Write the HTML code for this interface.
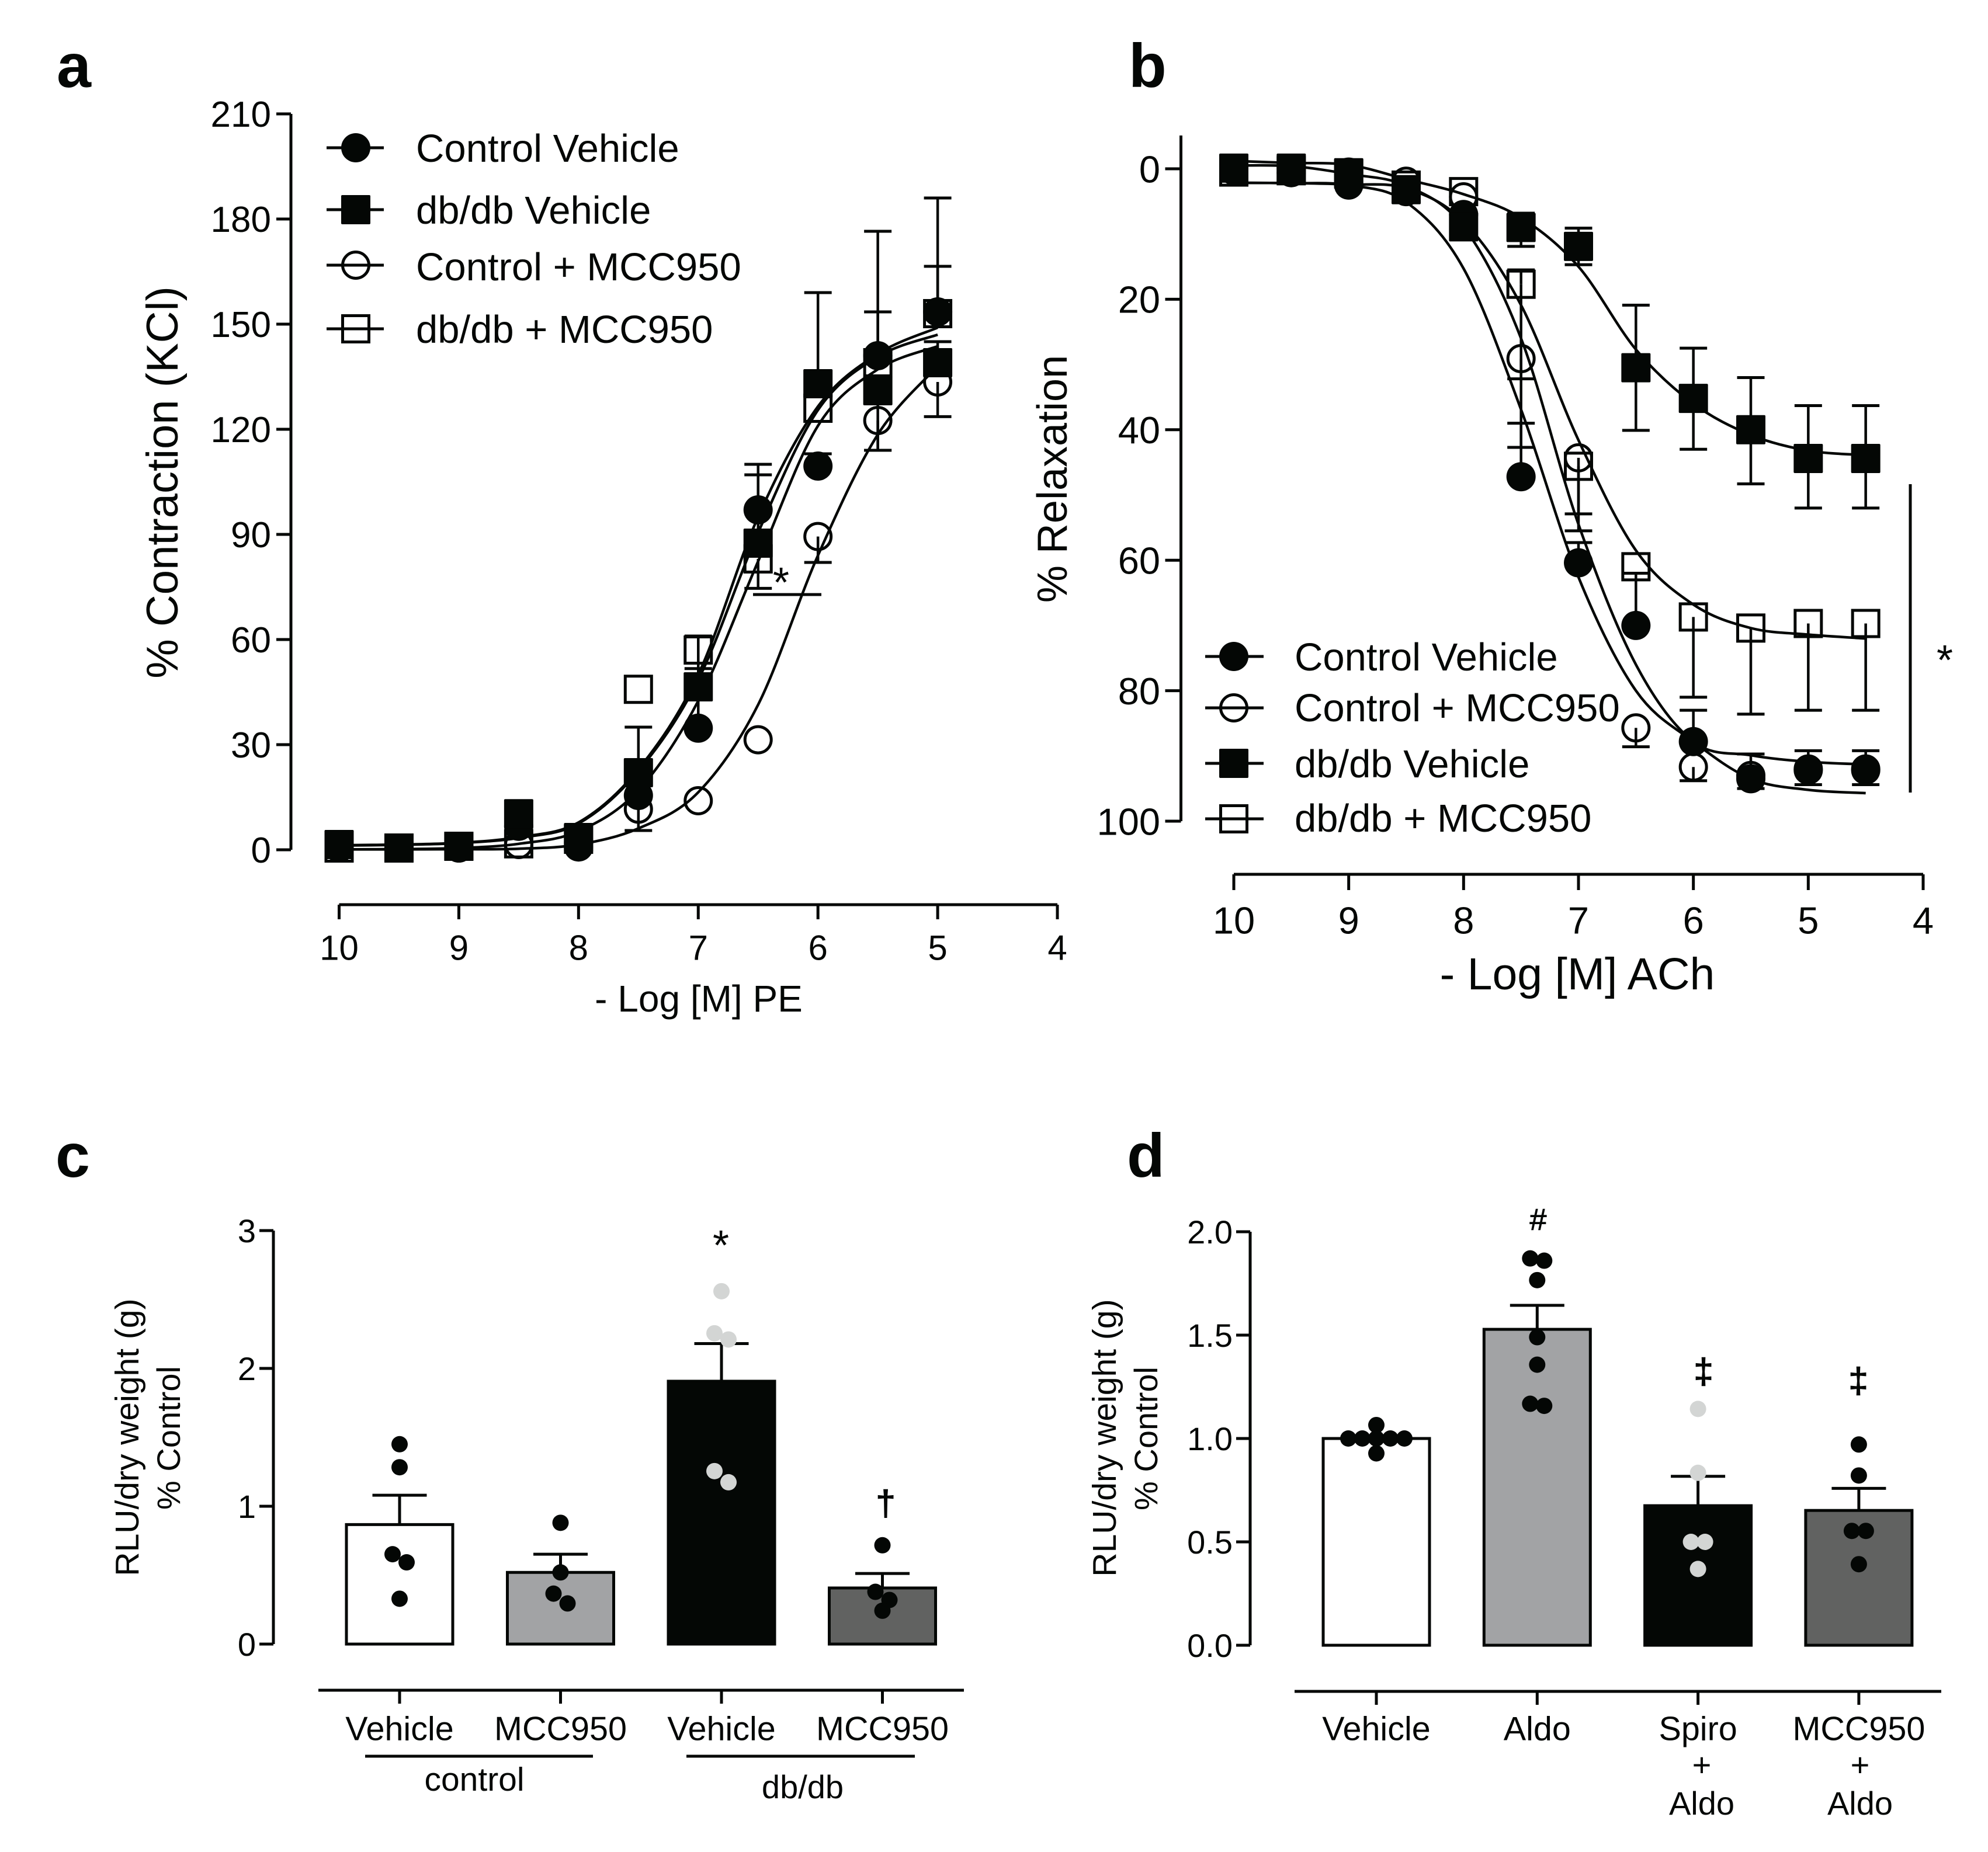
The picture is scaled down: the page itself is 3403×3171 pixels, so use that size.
<!DOCTYPE html>
<html lang="en">
<head>
<meta charset="utf-8">
<title>Vascular function panels a-d</title>
<style>
html,body{margin:0;padding:0;background:#fff;}
svg{display:block;}
text{font-family:"Liberation Sans",sans-serif;fill:#040705;}
</style>
</head>
<body>
<svg id="fig" xmlns="http://www.w3.org/2000/svg" width="3403" height="3171" viewBox="0 0 3403 3171">
<rect x="0" y="0" width="3403" height="3171" fill="#fff"/>

<text x="97" y="149" font-size="106" font-weight="700">a</text>
<text x="1932" y="149" font-size="106" font-weight="700">b</text>
<text x="95" y="2015" font-size="106" font-weight="700">c</text>
<text x="1929" y="2015" font-size="106" font-weight="700">d</text>

<text transform="translate(304,826) rotate(-90)" text-anchor="middle" font-size="76">% Contraction (KCl)</text>
<text x="1196" y="1732" text-anchor="middle" font-size="64">- Log [M] PE</text>
<line x1="1289" x2="1406" y1="1018" y2="1018" stroke="#040705" stroke-width="5"/>
<text x="1337" y="1022" text-anchor="middle" font-size="72">*</text>

<g>
<line x1="559" x2="657" y1="253" y2="253" stroke="#040705" stroke-width="5"/>
<circle cx="609" cy="253" r="25" fill="#040705"/>
<text x="712" y="277" font-size="67">Control Vehicle</text>
<line x1="559" x2="657" y1="359" y2="359" stroke="#040705" stroke-width="5"/>
<rect x="584" y="334" width="50" height="50" rx="2" fill="#040705"/>
<text x="712" y="383" font-size="67">db/db Vehicle</text>
<line x1="559" x2="657" y1="454" y2="454" stroke="#040705" stroke-width="5"/>
<circle cx="609" cy="454" r="22.5" fill="none" stroke="#040705" stroke-width="5"/>
<text x="712" y="480" font-size="67">Control + MCC950</text>
<line x1="559" x2="657" y1="563" y2="563" stroke="#040705" stroke-width="5"/>
<rect x="586.5" y="540.5" width="45" height="45" fill="none" stroke="#040705" stroke-width="5"/>
<text x="712" y="587" font-size="67">db/db + MCC950</text>
</g>

<text transform="translate(1826,820) rotate(-90)" text-anchor="middle" font-size="72">% Relaxation</text>
<text x="2700" y="1694" text-anchor="middle" font-size="77">- Log [M] ACh</text>
<line x1="3270" x2="3270" y1="829" y2="1357" stroke="#040705" stroke-width="5"/>
<text x="3329" y="1155" text-anchor="middle" font-size="72">*</text>

<g>
<line x1="2063" x2="2163" y1="1124" y2="1124" stroke="#040705" stroke-width="5"/>
<circle cx="2112" cy="1124" r="25" fill="#040705"/>
<text x="2216" y="1148" font-size="67">Control Vehicle</text>
<line x1="2063" x2="2163" y1="1212" y2="1212" stroke="#040705" stroke-width="5"/>
<circle cx="2112" cy="1212" r="22.5" fill="none" stroke="#040705" stroke-width="5"/>
<text x="2216" y="1235" font-size="67">Control + MCC950</text>
<line x1="2063" x2="2163" y1="1307" y2="1307" stroke="#040705" stroke-width="5"/>
<rect x="2087" y="1282" width="50" height="50" rx="2" fill="#040705"/>
<text x="2216" y="1331" font-size="67">db/db Vehicle</text>
<line x1="2063" x2="2163" y1="1402" y2="1402" stroke="#040705" stroke-width="5"/>
<rect x="2089.5" y="1379.5" width="45" height="45" fill="none" stroke="#040705" stroke-width="5"/>
<text x="2216" y="1424" font-size="67">db/db + MCC950</text>
</g>

<text transform="translate(237,2461) rotate(-90)" text-anchor="middle" font-size="57">RLU/dry weight (g)</text>
<text transform="translate(308,2462) rotate(-90)" text-anchor="middle" font-size="56">% Control</text>
<line x1="625" x2="1015" y1="3007" y2="3007" stroke="#040705" stroke-width="5"/>
<line x1="1175" x2="1566" y1="3007" y2="3007" stroke="#040705" stroke-width="5"/>
<text x="812" y="3066" text-anchor="middle" font-size="57">control</text>
<text x="1374" y="3079" text-anchor="middle" font-size="56">db/db</text>
<text x="1234" y="2157" text-anchor="middle" font-size="72">*</text>
<text x="1516" y="2594" text-anchor="middle" font-size="60" stroke="#040705" stroke-width="1.5">†</text>

<text transform="translate(1910,2462) rotate(-90)" text-anchor="middle" font-size="57">RLU/dry weight (g)</text>
<text transform="translate(1981,2463) rotate(-90)" text-anchor="middle" font-size="56">% Control</text>
<text x="2913" y="3041" text-anchor="middle" font-size="56">+</text>
<text x="2913" y="3107" text-anchor="middle" font-size="56">Aldo</text>
<text x="3184" y="3041" text-anchor="middle" font-size="56">+</text>
<text x="3184" y="3107" text-anchor="middle" font-size="56">Aldo</text>
<text x="2633" y="2106" text-anchor="middle" font-size="52" stroke="#040705" stroke-width="1">#</text>
<text x="2916" y="2368" text-anchor="middle" font-size="60" stroke="#040705" stroke-width="1.5">‡</text>
<text x="3181" y="2384" text-anchor="middle" font-size="60" stroke="#040705" stroke-width="1.5">‡</text>

<g id="chart-a"></g>
<g id="chart-b"></g>
<g id="chart-c"></g>
<g id="chart-d"></g>
</svg>

<script>
const n = null;

/* Panel a */
const aDoses = [10, 9.5, 9, 8.5, 8, 7.5, 7, 6.5, 6, 5.5, 5];
const aCtrlVeh = [1, 0.5, 0.5, 6.7, 0.8, 15.5, 34.7, 97, 109.5, 141, 153.5];
const aDbVeh = [1.5, 0.5, 1, 10.3, 3.5, 22, 46.5, 87.5, 133, 131, 139];
const aCtrlMcc = [0.5, 0.5, 0.5, 1.5, 2, 11.6, 14, 31.4, 89.4, 122.5, 133.5];
const aDbMcc = [0.5, 0.5, 1, 1.7, 3, 45.8, 57, 83, 126, 139, 153];
const aCtrlVehCaps = [n, n, n, n, n, n, 51.7, 110, 113, 153.5, 166.5];
const aDbVehCaps = [n, n, n, n, n, 35, 61, 107, 159, 114, 145];
const aCtrlMccCaps = [n, n, n, n, n, 5.5, n, n, 82, 114, 123.6];
const aDbMccCaps = [n, n, n, n, n, n, n, 74.6, n, 176.5, 186];
const aCtrlVehFit = [1.3, 1.5, 2, 3.6, 7.8, 23, 50, 95, 126.5, 141.5, 149];
const aDbMccFit = [1.2, 1.4, 1.9, 3.4, 7.5, 22.5, 48.5, 90.5, 125.5, 140.7, 147];
const aDbVehFit = [0.1, 0.2, 0.5, 1.7, 5.3, 17, 42.5, 82.3, 121, 137.1, 143.7];
const aCtrlMccFit = [0.1, 0.1, 0.15, 0.3, 1.5, 6.1, 16.4, 41.4, 84, 118.5, 138];
const aYTicks = [0, 30, 60, 90, 120, 150, 180, 210];
const aXTicks = [10, 9, 8, 7, 6, 5, 4];

/* Panel b */
const bDoses = [10, 9.5, 9, 8.5, 8, 7.5, 7, 6.5, 6, 5.5, 5, 4.5];
const bCtrlVeh = [0.3, 0.6, 2.5, 3.5, 7, 47.2, 60.4, 70, 87.8, 93.5, 92.2, 92.2];
const bDbVeh = [-0.1, -0.1, 0.6, 3.2, 8.9, 9, 11.9, 30.5, 35.2, 40, 44.4, 44.4];
const bCtrlMcc = [0, 0, 0.5, 1.9, 4.3, 29.1, 44.3, 85.7, 91.7, 93, 92, 92];
const bDbMcc = [0.5, 0.3, 0.8, 2.5, 3.5, 17.7, 45.6, 61, 68.7, 70.4, 69.7, 69.7];
const bCtrlVehCaps = [n, n, n, n, n, 39, 57.3, 62, 83, 89.7, 89.2, 89.2];
const bCtrlMccCaps = [n, n, n, n, n, 32.2, 55.5, 88.6, 93.8, 95, 94.4, 94.4];
const bDbMccCapsLower = [n, n, n, n, n, 42.7, 52.9, n, 81, 83.6, 83, 83];
const bDbMccCapsUpper = [n, n, n, n, n, 15.5, n, n, n, n, n, n];
const bDbVehCapsUpper = [n, n, n, n, n, 6.8, 9.1, 20.9, 27.5, 32, 36.3, 36.3];
const bDbVehCapsLower = [n, n, n, n, n, 11.9, 14.7, 40.1, 43, 48.3, 52, 52];
const bCtrlVehFit = [2.15, 2.2, 2.5, 5.1, 15.3, 36.9, 62.6, 80, 87.8, 93.5, 95.2, 95.7];
const bCtrlMccFit = [-0.5, -0.4, 0.8, 2.6, 8.9, 26, 54.5, 76, 87.8, 89.9, 90.9, 91.3];
const bDbVehFit = [-1.2, -0.9, -0.6, 1.6, 3.9, 7.5, 15, 27.7, 36, 40.8, 43.2, 43.9];
const bDbMccFit = [2.15, 2.2, 2.4, 3, 8.1, 20.9, 41.6, 58.5, 66.8, 70.4, 71.4, 72];
const bYTicks = [0, 20, 40, 60, 80, 100];
const bXTicks = [10, 9, 8, 7, 6, 5, 4];

/* Panel c */
const cCategories = ['Vehicle', 'MCC950', 'Vehicle', 'MCC950'];
const cMeans = [0.867, 0.52, 1.907, 0.407];
const cCaps = [1.08, 0.652, 2.18, 0.512];
const cPoints1 = [1.45, 1.283, 0.652, 0.593, 0.329];
const cPoints2 = [0.88, 0.52, 0.366, 0.295];
const cPoints3 = [2.56, 2.255, 2.21, 1.255, 1.174];
const cPoints4 = [0.717, 0.379, 0.32, 0.242];
const cYTicks = [0, 1, 2, 3];
const cYTickLabels = ['0', '1', '2', '3'];

/* Panel d */
const dCategories = ['Vehicle', 'Aldo', 'Spiro', 'MCC950'];
const dMeans = [1.0, 1.528, 0.675, 0.652];
const dCaps = [1.0, 1.644, 0.817, 0.759];
const dPoints1 = [1.065, 1, 1, 1, 1, 1, 0.928];
const dPoints2 = [1.871, 1.86, 1.766, 1.49, 1.357, 1.168, 1.158];
const dPoints3 = [1.143, 0.834, 0.5, 0.5, 0.369];
const dPoints4 = [0.971, 0.821, 0.553, 0.553, 0.392];
const dYTicks = [0, 0.5, 1, 1.5, 2];
const dYTickLabels = ['0.0', '0.5', '1.0', '1.5', '2.0'];

const INK = '#040705';
const NS = 'http://www.w3.org/2000/svg';

function mk(tag, attrs, parent, name) {
  const el = document.createElementNS(NS, tag);
  
  
  for (const k in attrs) el.setAttribute(k, attrs[k]);
  parent.appendChild(el);
  return el;
}
function seg(parent, name, x1, y1, x2, y2, w) {
  return mk('line', {x1, y1, x2, y2, stroke: INK, 'stroke-width': w || 5}, parent, name);
}
function label(parent, name, str, x, y, size, anchor) {
  const t = mk('text', {x, y: y + size * 0.358, 'font-size': size, 'text-anchor': anchor}, parent, name);
  t.textContent = str;
  return t;
}
function scale(d0, d1, r0, r1) {
  return v => r0 + (v - d0) * (r1 - r0) / (d1 - d0);
}
function splinePath(pts) {
  let d = 'M' + pts[0][0] + ' ' + pts[0][1];
  for (let i = 0; i < pts.length - 1; i++) {
    const p0 = pts[Math.max(i - 1, 0)], p1 = pts[i], p2 = pts[i + 1], p3 = pts[Math.min(i + 2, pts.length - 1)];
    d += ' C' + (p1[0] + (p2[0] - p0[0]) / 6) + ' ' + (p1[1] + (p2[1] - p0[1]) / 6) + ' ' +
         (p2[0] - (p3[0] - p1[0]) / 6) + ' ' + (p2[1] - (p3[1] - p1[1]) / 6) + ' ' + p2[0] + ' ' + p2[1];
  }
  return d;
}
function marker(parent, name, kind, cx, cy) {
  if (kind === 'fc') mk('circle', {cx, cy, r: 25, fill: INK}, parent, name);
  if (kind === 'oc') mk('circle', {cx, cy, r: 22.5, fill: 'none', stroke: INK, 'stroke-width': 5}, parent, name);
  if (kind === 'fs') mk('rect', {x: cx - 25, y: cy - 25, width: 50, height: 50, rx: 2, fill: INK}, parent, name);
  if (kind === 'os') mk('rect', {x: cx - 22.5, y: cy - 22.5, width: 45, height: 45, fill: 'none', stroke: INK, 'stroke-width': 5}, parent, name);
}

function doseChart(g, cfg) {
  const x = cfg.x, y = cfg.y;
  seg(g, 'y-axis-line', cfg.yAxisX, y(cfg.yTop), cfg.yAxisX, y(cfg.yBottom));
  cfg.yTicks.forEach(t => {
    seg(g, 'y-tick-' + t, cfg.yAxisX - cfg.tickLen, y(t), cfg.yAxisX, y(t));
    label(g, 'y-tick-label-' + t, String(t), cfg.yLabelX, y(t), cfg.yFont, 'end');
  });
  seg(g, 'x-axis-line', x(cfg.xTicks[0]), cfg.xAxisY, x(cfg.xTicks[cfg.xTicks.length - 1]), cfg.xAxisY);
  cfg.xTicks.forEach(t => {
    seg(g, 'x-tick-' + t, x(t), cfg.xAxisY, x(t), cfg.xAxisY + cfg.tickLen);
    label(g, 'x-tick-label-' + t, String(t), x(t), cfg.xLabelY, cfg.xFont, 'middle');
  });
  cfg.fits.forEach(f => {
    const pts = cfg.doses.map((dv, i) => [x(dv), y(f.values[i])]);
    mk('path', {d: splinePath(pts), fill: 'none', stroke: INK, 'stroke-width': 4.5}, g, 'fit-curve-' + f.name);
  });
  cfg.series.forEach(s => {
    s.caps.forEach(caps => caps.forEach((c, i) => {
      if (c === null) return;
      const px = x(cfg.doses[i]);
      seg(g, 'error-bar-' + s.name, px, y(s.values[i]), px, y(c), 4.5);
      seg(g, 'error-cap-' + s.name, px - 23.5, y(c), px + 23.5, y(c));
    }));
  });
  cfg.series.forEach(s => {
    s.values.forEach((v, i) => {
      marker(g, 'point-' + s.name, s.kind, x(cfg.doses[i]), y(v));
    });
  });
}

doseChart(document.getElementById('chart-a'), {
  doses: aDoses,
  x: scale(10, 4, 580.5, 1810),
  y: scale(0, 210, 1455, 195),
  yAxisX: 498, yTop: 210, yBottom: 0, tickLen: 25,
  yTicks: aYTicks, xTicks: aXTicks,
  xAxisY: 1549, yLabelX: 464, xLabelY: 1622, yFont: 62, xFont: 60,
  fits: [
    {name: 'control-vehicle', values: aCtrlVehFit},
    {name: 'db-vehicle', values: aDbVehFit},
    {name: 'db-mcc950', values: aDbMccFit},
    {name: 'control-mcc950', values: aCtrlMccFit}
  ],
  series: [
    {name: 'control-mcc950', kind: 'oc', values: aCtrlMcc, caps: [aCtrlMccCaps]},
    {name: 'db-mcc950', kind: 'os', values: aDbMcc, caps: [aDbMccCaps]},
    {name: 'control-vehicle', kind: 'fc', values: aCtrlVeh, caps: [aCtrlVehCaps]},
    {name: 'db-vehicle', kind: 'fs', values: aDbVeh, caps: [aDbVehCaps]}
  ]
});

doseChart(document.getElementById('chart-b'), {
  doses: bDoses,
  x: scale(10, 4, 2112, 3292),
  y: scale(0, 100, 289, 1406),
  yAxisX: 2021.5, yTop: -5.1, yBottom: 100, tickLen: 27,
  yTicks: bYTicks, xTicks: bXTicks,
  xAxisY: 1497, yLabelX: 1986, xLabelY: 1575, yFont: 65, xFont: 65,
  fits: [
    {name: 'control-vehicle', values: bCtrlVehFit},
    {name: 'control-mcc950', values: bCtrlMccFit},
    {name: 'db-vehicle', values: bDbVehFit},
    {name: 'db-mcc950', values: bDbMccFit}
  ],
  series: [
    {name: 'control-mcc950', kind: 'oc', values: bCtrlMcc, caps: [bCtrlMccCaps]},
    {name: 'db-mcc950', kind: 'os', values: bDbMcc, caps: [bDbMccCapsLower, bDbMccCapsUpper]},
    {name: 'control-vehicle', kind: 'fc', values: bCtrlVeh, caps: [bCtrlVehCaps]},
    {name: 'db-vehicle', kind: 'fs', values: bDbVeh, caps: [bDbVehCapsUpper, bDbVehCapsLower]}
  ]
});

function swarm(values, y) {
  const sorted = values.slice().sort((a, b) => b - a);
  const clusters = [];
  sorted.forEach(v => {
    const last = clusters[clusters.length - 1];
    if (last && Math.abs(y(last[0]) - y(v)) < 20) last.push(v);
    else clusters.push([v]);
  });
  const out = [];
  clusters.forEach(c => c.forEach((v, i) => out.push({v, off: (i - (c.length - 1) / 2) * 24})));
  return out;
}

function barChart(g, cfg) {
  const y = cfg.y;
  const band = i => cfg.x0 + i * cfg.step;
  seg(g, 'y-axis-line', cfg.yAxisX, y(cfg.yTicks[cfg.yTicks.length - 1]), cfg.yAxisX, y(0));
  cfg.yTicks.forEach((t, i) => {
    seg(g, 'y-tick-' + t, cfg.yAxisX - 24, y(t), cfg.yAxisX, y(t));
    label(g, 'y-tick-label-' + t, cfg.yTickLabels[i], cfg.yLabelX, y(t), 56, 'end');
  });
  seg(g, 'x-axis-line', cfg.axisX1, cfg.axisY, cfg.axisX2, cfg.axisY);
  cfg.categories.forEach((c, i) => {
    const cx = band(i);
    seg(g, 'x-tick-' + i, cx, cfg.axisY, cx, cfg.axisY + 23);
    label(g, 'category-label-' + i, c, cx, 2959, 57.5, 'middle');
    seg(g, 'error-bar-' + i, cx, y(cfg.means[i]), cx, y(cfg.caps[i]));
    seg(g, 'error-cap-' + i, cx - 46.5, y(cfg.caps[i]), cx + 46.5, y(cfg.caps[i]));
    mk('rect', {x: cx - 91, y: y(cfg.means[i]), width: 182, height: y(0) - y(cfg.means[i]),
      fill: cfg.fills[i], stroke: INK, 'stroke-width': 5}, g, 'bar-' + i);
    swarm(cfg.points[i], y).forEach(p => {
      mk('circle', {cx: cx + p.off, cy: y(p.v), r: 14, fill: cfg.dotFills[i]}, g, 'data-point-' + i);
    });
  });
}

barChart(document.getElementById('chart-c'), {
  y: scale(0, 3, 2815, 2107),
  x0: 684, step: 275.5,
  yAxisX: 468, yLabelX: 438,
  yTicks: cYTicks, yTickLabels: cYTickLabels,
  axisX1: 545, axisX2: 1650, axisY: 2894,
  categories: cCategories, means: cMeans, caps: cCaps,
  points: [cPoints1, cPoints2, cPoints3, cPoints4],
  fills: ['#ffffff', '#a2a3a5', '#040705', '#616261'],
  dotFills: ['#040705', '#040705', '#d3d5d4', '#040705']
});

barChart(document.getElementById('chart-d'), {
  y: scale(0, 2, 2817, 2109),
  x0: 2356, step: 275.3,
  yAxisX: 2140, yLabelX: 2110,
  yTicks: dYTicks, yTickLabels: dYTickLabels,
  axisX1: 2216, axisX2: 3323, axisY: 2896,
  categories: dCategories, means: dMeans, caps: dCaps,
  points: [dPoints1, dPoints2, dPoints3, dPoints4],
  fills: ['#ffffff', '#a2a3a5', '#040705', '#616261'],
  dotFills: ['#040705', '#040705', '#d3d5d4', '#040705']
});
</script>
</body>
</html>
